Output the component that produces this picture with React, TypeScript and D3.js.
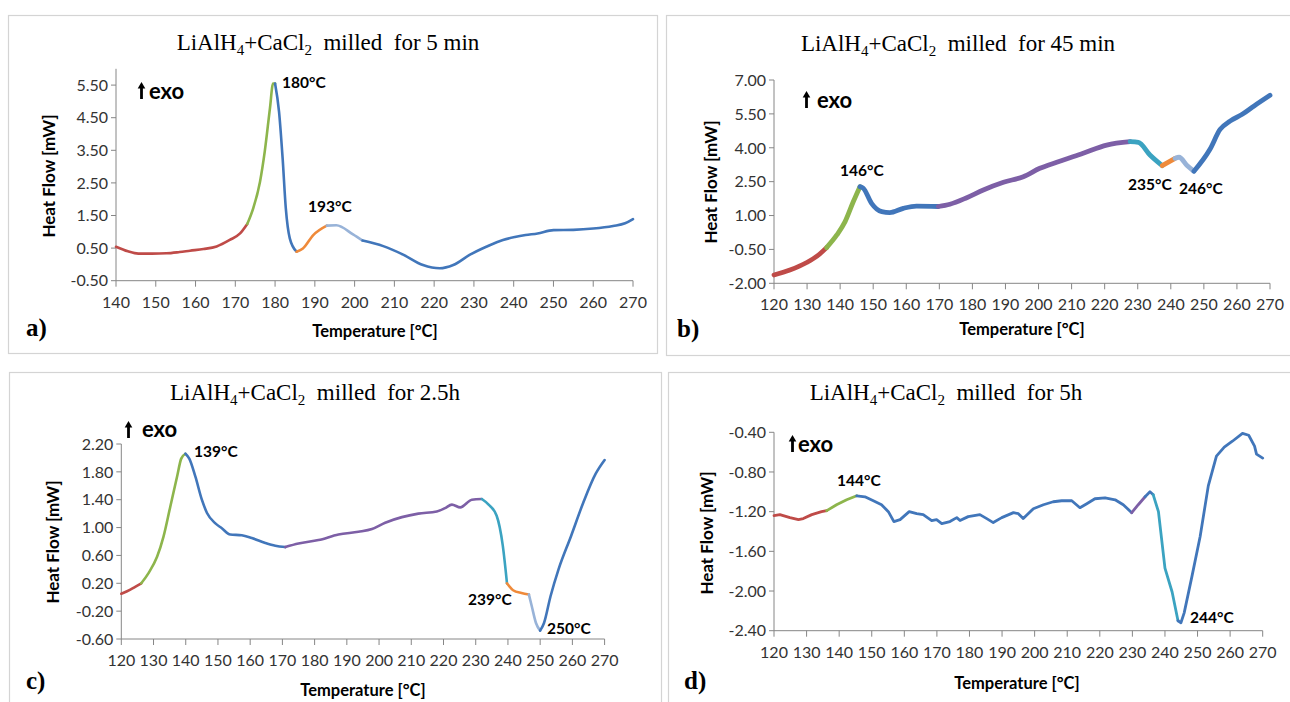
import React from 'react';
import * as d3 from 'd3';

// ---------- Panel a: milled for 5 min ----------
const aTemp = [140, 143, 145.6, 149, 152.7, 156, 158.6, 162, 165.3, 168.6, 171.2, 173, 174.5, 176.2, 177.4, 178.7, 179.5, 180, 181, 181.9, 182.7, 183.7, 185.4, 187, 189.6, 193, 195.4, 199.6, 202, 207.2, 212.2, 217.2, 221.4, 224.8, 228.9, 233.1, 237.3, 240.3, 243, 246, 250, 255, 260, 265, 268, 270];
const aHeat = [0.54, 0.40, 0.33, 0.33, 0.34, 0.38, 0.42, 0.47, 0.55, 0.75, 0.95, 1.24, 1.72, 2.53, 3.46, 4.78, 5.55, 5.55, 4.68, 3.25, 1.72, 0.80, 0.39, 0.49, 0.90, 1.19, 1.20, 0.92, 0.73, 0.56, 0.30, -0.02, -0.12, -0.02, 0.29, 0.54, 0.75, 0.84, 0.90, 0.95, 1.05, 1.06, 1.10, 1.18, 1.26, 1.39];
const aBreaks = [173, 180, 185.4, 193, 202];
const aSegKeys = ['red', 'green', 'blue', 'orange', 'light', 'blue'];
const aXTicks = ['140', '150', '160', '170', '180', '190', '200', '210', '220', '230', '240', '250', '260', '270'];
const aYTicks = ['-0.50', '0.50', '1.50', '2.50', '3.50', '4.50', '5.50'];
const aYDomain = [-0.5, 6.0];
const aPeaks = ['180°C', '193°C'];

// ---------- Panel b: milled for 45 min ----------
const bTemp = [120, 124.8, 129.9, 133, 135.9, 139, 141.5, 144, 146, 147, 149.5, 152.6, 155, 159.1, 163.1, 169.7, 173.2, 178.3, 183.3, 189.4, 195.4, 200.4, 205.5, 213.5, 220.6, 227.7, 230.2, 233.7, 237.4, 241.3, 242.5, 245, 247, 251.8, 254.9, 257.9, 261.6, 265.2, 270];
const bHeat = [-1.63, -1.41, -1.08, -0.80, -0.42, 0.14, 0.73, 1.62, 2.28, 2.21, 1.54, 1.17, 1.13, 1.32, 1.42, 1.40, 1.50, 1.79, 2.13, 2.47, 2.72, 3.09, 3.36, 3.76, 4.12, 4.27, 4.24, 3.68, 3.21, 3.53, 3.58, 3.20, 2.96, 3.92, 4.81, 5.18, 5.48, 5.85, 6.32];
const bBreaks = [135.9, 146, 169.7, 227.7, 237.4, 241.3, 247];
const bSegKeys = ['red', 'green', 'blue', 'purple', 'teal', 'orange', 'light', 'blue'];
const bXTicks = ['120', '130', '140', '150', '160', '170', '180', '190', '200', '210', '220', '230', '240', '250', '260', '270'];
const bYTicks = ['-2.00', '-0.50', '1.00', '2.50', '4.00', '5.50', '7.00'];
const bYDomain = [-2.0, 7.0];
const bPeaks = ['146°C', '235°C', '246°C'];

// ---------- Panel c: milled for 2.5h ----------
const cTemp = [120, 122.8, 124.3, 126.2, 128.5, 131.1, 133.1, 135.2, 137.3, 138.6, 139.9, 141.1, 143, 145, 146.6, 149.2, 151.2, 153.8, 157.4, 160.5, 164.7, 167.8, 170.9, 175, 181.2, 187.4, 193.6, 197.8, 201.9, 207.1, 212.2, 217.9, 220.5, 222.6, 225.2, 228.8, 231.9, 234, 236.5, 238.4, 239.7, 241.6, 244.2, 246.5, 247.4, 248.7, 250, 251.2, 253.2, 255.7, 259.6, 263.4, 267.2, 270];
const cHeat = [0.05, 0.11, 0.15, 0.20, 0.35, 0.58, 0.87, 1.30, 1.73, 1.99, 2.06, 1.99, 1.73, 1.40, 1.21, 1.06, 0.99, 0.90, 0.89, 0.85, 0.78, 0.74, 0.72, 0.77, 0.82, 0.90, 0.94, 0.98, 1.07, 1.15, 1.20, 1.23, 1.28, 1.33, 1.29, 1.40, 1.41, 1.33, 1.17, 0.74, 0.20, 0.10, 0.06, 0.04, -0.13, -0.37, -0.48, -0.37, 0.01, 0.40, 0.88, 1.36, 1.77, 1.97];
const cBreaks = [126.2, 139.9, 170.9, 231.9, 239.7, 246.5, 250];
const cSegKeys = ['red', 'green', 'blue', 'purple', 'teal', 'orange', 'light', 'blue'];
const cXTicks = bXTicks;
const cYTicks = ['-0.60', '-0.20', '0.20', '0.60', '1.00', '1.40', '1.80', '2.20'];
const cYDomain = [-0.6, 2.2];
const cPeaks = ['139°C', '239°C', '250°C'];

// ---------- Panel d: milled for 5h ----------
const dTemp = [120, 121.8, 124.9, 127.5, 129, 131.6, 134.6, 136.2, 139.2, 142.3, 145.4, 147.9, 150.5, 153, 155.1, 156.8, 158.7, 161.5, 163.8, 165.8, 168.4, 169.9, 171.5, 174, 176.1, 177.1, 179.6, 183.2, 185.3, 187.3, 189.9, 193.5, 195, 196.5, 199.6, 202.7, 205.7, 208.3, 211.4, 213.9, 216, 218.5, 221.6, 224.7, 227.2, 229.8, 231.8, 233.9, 235.4, 236.4, 238, 240, 242.2, 244, 244.9, 245.9, 248.3, 250.8, 253.3, 255.8, 258.2, 260.7, 263.8, 265.7, 267.5, 268.1, 270];
const dHeat = [-1.24, -1.23, -1.26, -1.28, -1.27, -1.23, -1.20, -1.19, -1.13, -1.08, -1.04, -1.05, -1.09, -1.13, -1.20, -1.30, -1.28, -1.20, -1.22, -1.23, -1.29, -1.28, -1.32, -1.30, -1.26, -1.29, -1.25, -1.23, -1.27, -1.31, -1.26, -1.21, -1.22, -1.27, -1.17, -1.13, -1.10, -1.09, -1.09, -1.16, -1.12, -1.07, -1.06, -1.08, -1.13, -1.21, -1.13, -1.05, -1.00, -1.03, -1.20, -1.77, -2.01, -2.30, -2.32, -2.22, -1.85, -1.45, -0.94, -0.64, -0.55, -0.49, -0.41, -0.43, -0.54, -0.62, -0.66];
const dBreaks = [136.2, 145.4, 229.8, 233.9, 236.4, 244];
const dSegKeys = ['red', 'green', 'blue', 'purple', 'blue', 'teal', 'blue'];
const dXTicks = bXTicks;
const dYTicks = ['-2.40', '-2.00', '-1.60', '-1.20', '-0.80', '-0.40'];
const dYDomain = [-2.4, -0.4];
const dPeaks = ['144°C'];
const dPeaks2 = ['244°C'];

const titleSuffixes = ['5 min', '45 min', '2.5h', '5h'];
const letters = ['a)', 'b)', 'c)', 'd)'];

// ---------- styles ----------
const COLORS: Record<string, string> = {
  red: '#bf4b48',
  green: '#8db54c',
  blue: '#4176ba',
  orange: '#ef8a3a',
  light: '#98b3d8',
  purple: '#7d5fa6',
  teal: '#3ba3c1',
};
const SANS = 'Lato, "Open Sans", sans-serif';
const SERIF = '"Liberation Serif", "Times New Roman", serif';
const AXIS = '#868686';
const BORDER = '#d4d4d4';

type Note = { text: string; x: number; y: number };
type PanelCfg = {
  temps: number[]; heats: number[]; breaks: number[]; segKeys: string[];
  xTicks: string[]; yTicks: string[]; yDomain: number[];
  xRange: [number, number]; yRange: [number, number];
  lineWidth: number; curve: any;
  border: { x0: number; y0: number; x1: number; y1: number };
  title: { cx: number; y: number; suffix: string };
  letter: { x: number; y: number; text: string };
  xlabel: { cx: number; y: number };
  ylabel: { cx: number; cy: number };
  exo: { cx: number; top: number; bottom: number; tx: number; ty: number };
  notes: Note[];
};

const panels: PanelCfg[] = [
  {
    temps: aTemp, heats: aHeat, breaks: aBreaks, segKeys: aSegKeys,
    xTicks: aXTicks, yTicks: aYTicks, yDomain: aYDomain,
    xRange: [116, 633], yRange: [280.7, 68.8], lineWidth: 2.6, curve: d3.curveMonotoneX,
    border: { x0: 8.5, y0: 15.5, x1: 657.5, y1: 353.5 },
    title: { cx: 328, y: 50, suffix: titleSuffixes[0] },
    letter: { x: 26, y: 336, text: letters[0] },
    xlabel: { cx: 375, y: 337 },
    ylabel: { cx: 49, cy: 176 },
    exo: { cx: 141.5, top: 82, bottom: 99, tx: 149, ty: 99 },
    notes: [{ text: aPeaks[0], x: 282, y: 88 }, { text: aPeaks[1], x: 308, y: 212 }],
  },
  {
    temps: bTemp, heats: bHeat, breaks: bBreaks, segKeys: bSegKeys,
    xTicks: bXTicks, yTicks: bYTicks, yDomain: bYDomain,
    xRange: [774, 1270], yRange: [283.3, 80], lineWidth: 4.8, curve: d3.curveMonotoneX,
    border: { x0: 666.5, y0: 15.5, x1: 1300, y1: 355.5 },
    title: { cx: 958, y: 51, suffix: titleSuffixes[1] },
    letter: { x: 677, y: 337, text: letters[1] },
    xlabel: { cx: 1022, y: 335 },
    ylabel: { cx: 711, cy: 182 },
    exo: { cx: 806.5, top: 91, bottom: 108, tx: 817, ty: 108 },
    notes: [{ text: bPeaks[0], x: 840, y: 176 }, { text: bPeaks[1], x: 1128, y: 190 }, { text: bPeaks[2], x: 1179, y: 194 }],
  },
  {
    temps: cTemp, heats: cHeat, breaks: cBreaks, segKeys: cSegKeys,
    xTicks: cXTicks, yTicks: cYTicks, yDomain: cYDomain,
    xRange: [121.3, 604.6], yRange: [639, 444], lineWidth: 2.6, curve: d3.curveMonotoneX,
    border: { x0: 9.5, y0: 372.5, x1: 661.5, y1: 720 },
    title: { cx: 315, y: 399.5, suffix: titleSuffixes[2] },
    letter: { x: 26, y: 689, text: letters[2] },
    xlabel: { cx: 363, y: 696 },
    ylabel: { cx: 53, cy: 542 },
    exo: { cx: 128.5, top: 421, bottom: 438, tx: 142, ty: 437 },
    notes: [{ text: cPeaks[0], x: 194, y: 457 }, { text: cPeaks[1], x: 468, y: 605 }, { text: cPeaks[2], x: 547, y: 634 }],
  },
  {
    temps: dTemp, heats: dHeat, breaks: dBreaks, segKeys: dSegKeys,
    xTicks: dXTicks, yTicks: dYTicks, yDomain: dYDomain,
    xRange: [774, 1262.7], yRange: [630.7, 432.3], lineWidth: 2.8, curve: d3.curveLinear,
    border: { x0: 668.5, y0: 372.5, x1: 1300, y1: 720 },
    title: { cx: 946, y: 400, suffix: titleSuffixes[3] },
    letter: { x: 684, y: 689, text: letters[3] },
    xlabel: { cx: 1017, y: 689 },
    ylabel: { cx: 707, cy: 533 },
    exo: { cx: 792.5, top: 435, bottom: 452, tx: 798, ty: 452 },
    notes: [{ text: dPeaks[0], x: 837, y: 486 }, { text: dPeaks2[0], x: 1190, y: 623 }],
  },
];

function Panel({ p }: { p: PanelCfg }) {
  const xTickVals = p.xTicks.map(Number);
  const yTickVals = p.yTicks.map(Number);
  const x = d3.scaleLinear().domain([xTickVals[0], xTickVals[xTickVals.length - 1]]).range(p.xRange);
  const y = d3.scaleLinear().domain(p.yDomain).range(p.yRange);
  const pts = p.temps.map((t, i) => [t, p.heats[i]] as [number, number]);
  const idx = [0, ...p.breaks.map(b => p.temps.indexOf(b)), p.temps.length - 1];
  const line = d3.line<[number, number]>().x(d => x(d[0])).y(d => y(d[1])).curve(p.curve);
  const segs = p.segKeys.map((k, i) => ({ key: k, d: line(pts.slice(idx[i], idx[i + 1] + 1)) || '' }));
  const x0 = p.xRange[0];
  const yBottom = p.yRange[0];
  const yTop = p.yRange[1];
  const e = p.exo;
  const sub = 15;
  return (
    <g>
      <rect x={p.border.x0} y={p.border.y0} width={p.border.x1 - p.border.x0} height={p.border.y1 - p.border.y0}
        fill="#fff" stroke={BORDER} strokeWidth={1.2} />
      <text x={p.title.cx} y={p.title.y} textAnchor="middle" fontFamily={SERIF} fontSize={23} fill="#000">
        LiAlH<tspan fontSize={sub} dy={5}>4</tspan><tspan dy={-5}>+CaCl</tspan><tspan fontSize={sub} dy={5}>2</tspan>
        <tspan dy={-5}>{'\u00a0\u00a0milled\u00a0\u00a0for\u00a0' + p.title.suffix}</tspan>
      </text>
      {/* axes */}
      <line x1={x0} x2={x0} y1={yBottom} y2={yTop} stroke={AXIS} strokeWidth={1} />
      <line x1={x0} x2={p.xRange[1]} y1={yBottom} y2={yBottom} stroke={AXIS} strokeWidth={1} />
      {xTickVals.map((v, i) => (
        <g key={'xt' + i}>
          <line x1={x(v)} x2={x(v)} y1={yBottom} y2={yBottom + 6} stroke={AXIS} strokeWidth={1} />
          <text x={x(v)} y={yBottom + 27} textAnchor="middle" fontFamily={SANS} fontSize={16} fill="#333">{p.xTicks[i]}</text>
        </g>
      ))}
      {yTickVals.map((v, i) => (
        <g key={'yt' + i}>
          <line x1={x0 - 5} x2={x0} y1={y(v)} y2={y(v)} stroke={AXIS} strokeWidth={1} />
          <text x={x0 - 8} y={y(v)} dy="0.36em" textAnchor="end" fontFamily={SANS} fontSize={16} fill="#333">{p.yTicks[i]}</text>
        </g>
      ))}
      {/* curve */}
      {segs.map((s, i) => (
        <path key={'s' + i} d={s.d} fill="none" stroke={COLORS[s.key]} strokeWidth={p.lineWidth}
          strokeLinejoin="round" strokeLinecap="round" />
      ))}
      {/* labels */}
      <text x={p.xlabel.cx} y={p.xlabel.y} textAnchor="middle" fontFamily={SANS} fontWeight="bold" fontSize={16.5} fill="#000">Temperature [°C]</text>
      <text transform={`translate(${p.ylabel.cx},${p.ylabel.cy}) rotate(-90)`} dy="0.36em" textAnchor="middle"
        fontFamily={SANS} fontWeight="bold" fontSize={17} fill="#000">Heat Flow [mW]</text>
      <text x={p.letter.x} y={p.letter.y} fontFamily={SERIF} fontWeight="bold" fontSize={25} fill="#000">{p.letter.text}</text>
      {/* exo arrow */}
      <path d={`M${e.cx - 3.8},${e.top + 6.5} L${e.cx},${e.top} L${e.cx + 3.8},${e.top + 6.5} Z`} fill="#000" />
      <rect x={e.cx - 1.4} y={e.top + 4} width={2.8} height={e.bottom - e.top - 4} fill="#000" />
      <text x={e.tx} y={e.ty} fontFamily={SANS} fontWeight="bold" fontSize={22} fill="#000">exo</text>
      {p.notes.map((n, i) => (
        <text key={'n' + i} x={n.x} y={n.y} fontFamily={SANS} fontWeight="bold" fontSize={15.5} fill="#000">{n.text}</text>
      ))}
    </g>
  );
}

export default function App() {
  return (
    <svg width={1290} height={702} viewBox="0 0 1290 702"
      style={{ position: 'absolute', left: 0, top: 0, background: '#fff', display: 'block' }}>
      <rect x={0} y={0} width={1290} height={702} fill="#fff" />
      {panels.map((p, i) => <Panel key={i} p={p} />)}
    </svg>
  );
}
